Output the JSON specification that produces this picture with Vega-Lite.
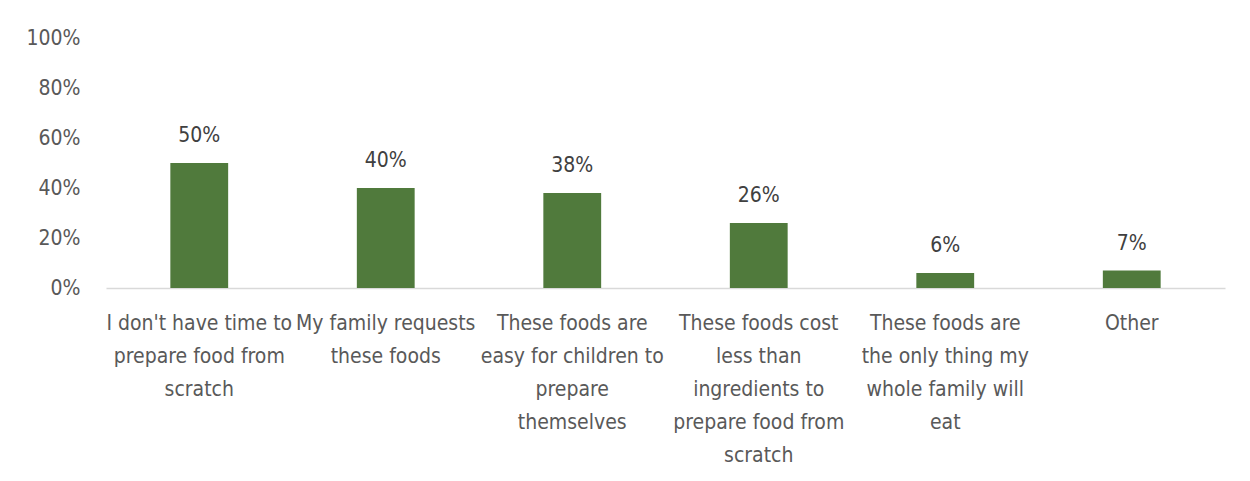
{
  "$schema": "https://vega.github.io/schema/vega-lite/v6.json",
  "autosize": {"type": "none"},
  "width": 1119,
  "height": 250,
  "padding": {"left": 106, "top": 38, "right": 25, "bottom": 193},
  "background": "white",
  "config": {
    "view": {"stroke": null},
    "font": "DejaVu Sans Condensed, Roboto, sans-serif"
  },
  "data": {
    "values": [
      {"reason": "I don't have time to prepare food from scratch", "share": 0.50},
      {"reason": "My family requests these foods", "share": 0.40},
      {"reason": "These foods are easy for children to prepare themselves", "share": 0.38},
      {"reason": "These foods cost less than ingredients to prepare food from scratch", "share": 0.26},
      {"reason": "These foods are the only thing my whole family will eat", "share": 0.06},
      {"reason": "Other", "share": 0.07}
    ]
  },
  "encoding": {
    "x": {
      "field": "reason",
      "type": "nominal",
      "sort": null,
      "scale": {"paddingInner": 0, "paddingOuter": 0},
      "axis": {
        "title": null,
        "labelAngle": 0,
        "labelFontSize": 21,
        "labelColor": "#595959",
        "labelLineHeight": 33,
        "labelBaseline": "top",
        "labelPadding": 24,
        "labelLimit": 0,
        "ticks": false,
        "domainColor": "#d9d9d9",
        "domainWidth": 1.5,
        "labelExpr": "datum.value == \"I don't have time to prepare food from scratch\" ? [\"I don't have time to\", 'prepare food from', 'scratch'] : datum.value == 'My family requests these foods' ? ['My family requests', 'these foods'] : datum.value == 'These foods are easy for children to prepare themselves' ? ['These foods are', 'easy for children to', 'prepare', 'themselves'] : datum.value == 'These foods cost less than ingredients to prepare food from scratch' ? ['These foods cost', 'less than', 'ingredients to', 'prepare food from', 'scratch'] : datum.value == 'These foods are the only thing my whole family will eat' ? ['These foods are', 'the only thing my', 'whole family will', 'eat'] : datum.label"
      }
    },
    "y": {
      "field": "share",
      "type": "quantitative",
      "scale": {"domain": [0, 1]},
      "axis": {
        "title": null,
        "values": [0, 0.2, 0.4, 0.6, 0.8, 1],
        "format": ".0%",
        "labelFontSize": 21,
        "labelColor": "#595959",
        "labelPadding": 26,
        "domain": false,
        "ticks": false,
        "grid": false
      }
    }
  },
  "layer": [
    {
      "mark": {"type": "bar", "color": "#507a3c", "width": {"band": 0.31}}
    },
    {
      "mark": {"type": "text", "dy": -27, "fontSize": 21, "color": "#404040"},
      "encoding": {
        "text": {"field": "share", "type": "quantitative", "format": ".0%"}
      }
    }
  ]
}
